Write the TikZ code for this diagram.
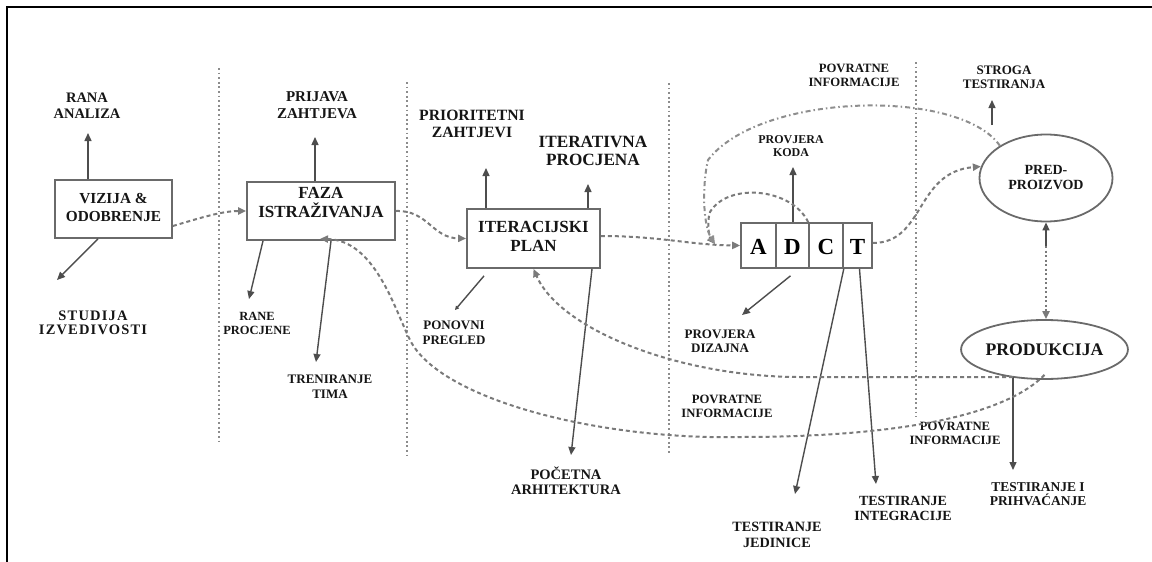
\documentclass[tikz,border=0pt]{standalone}
\usepackage{fontspec}
\setmainfont{Liberation Serif}
\usetikzlibrary{arrows.meta,shapes.geometric}
\definecolor{ln}{HTML}{4D4D4D}
\definecolor{dl}{HTML}{7A7A7A}
\definecolor{dv}{HTML}{8C8C8C}
\definecolor{bx}{HTML}{6A6A6A}
\definecolor{txt}{HTML}{151515}
\begin{document}
\begin{tikzpicture}[x=1pt,y=-1pt,
 lbl/.style n args={2}{font=\bfseries\fontsize{#1}{#2}\selectfont, align=center, inner sep=0pt, text=txt},
 boxn/.style={draw=bx, line width=1.8pt, rectangle, inner sep=0pt, align=center, text=txt},
 cell/.style={draw=bx, line width=1.6pt, rectangle, inner sep=0pt, minimum height=45pt, text height=31.5pt, text depth=13.5pt, font=\bfseries\fontsize{23}{23}\selectfont, text=black},
 ell/.style={draw=bx, line width=1.8pt, ellipse, inner sep=0pt, align=center, text=txt},
 arr/.style={draw=ln, line width=1.4pt, -{Triangle[length=8pt,width=7pt]}},
 arrsmall/.style={draw=ln, line width=1.4pt, -{Triangle[length=4pt,width=4pt]}},
 dsh/.style={draw=dl, line width=2pt, dash pattern=on 4pt off 3pt, -{Triangle[length=8pt,width=7pt]}},
 dshdot/.style={draw=dl!85, line width=2pt, dash pattern=on 5pt off 3pt on 1.5pt off 3pt, -{Triangle[length=8pt,width=7pt]}},
 dotarr/.style={draw=dl, line width=2pt, dash pattern=on 2pt off 2.5pt, -{Triangle[length=8pt,width=7pt]}},
 divl/.style={draw=dv, line width=2.2pt, dash pattern=on 1.8pt off 2.8pt}
]
\useasboundingbox (0,0) rectangle (1152,562);
% frame
\draw[line width=2pt, black] (7,562) -- (7,7) -- (1152,7);
% dividers
\draw[divl] (219,68) -- (219,442);
\draw[divl] (407,82) -- (407,455);
\draw[divl] (669,83) -- (669,455);
\draw[divl] (916,62) -- (916,417);

% boxes
\node[boxn, minimum width=117pt, text height=41pt, text depth=17pt, font=\bfseries\fontsize{15.3}{18}\selectfont] (viz) at (113.5,209) {VIZIJA \&\\ODOBRENJE};
\node[boxn, minimum width=148pt, text height=35.6pt, text depth=22.4pt, font=\bfseries\fontsize{17}{19}\selectfont] (faza) at (321,211) {FAZA\\ISTRAŽIVANJA};
\node[boxn, minimum width=133pt, text height=42.6pt, text depth=16.4pt, font=\bfseries\fontsize{17}{19}\selectfont] (iter) at (533.5,238.5) {ITERACIJSKI\\PLAN};
\node[cell, minimum width=35pt] (A) at (758.5,245.5) {A};
\node[cell, minimum width=33pt] (D) at (792.5,245.5) {D};
\node[cell, minimum width=34pt] (C) at (826,245.5) {C};
\node[cell, minimum width=29pt] (T) at (857.5,245.5) {T};
\node[ell, minimum width=133pt, minimum height=87pt, font=\bfseries\fontsize{14}{15}\selectfont] (pred) at (1046,178) {PRED-\\PROIZVOD};
\node[ell, minimum width=165pt, minimum height=59pt, font=\bfseries\fontsize{17.7}{19}\selectfont] (prod) at (1044.5,349.5) {PRODUKCIJA};

% labels
\node[lbl={14.5}{16}] (rana) at (87,106) {RANA\\ANALIZA};
\node[lbl={14.5}{14.5}, font=\bfseries\fontsize{14.5}{14.5}\selectfont\addfontfeatures{LetterSpace=8}] (stud) at (93,323) {STUDIJA\\IZVEDIVOSTI};
\node[lbl={15}{16.7}] (prij) at (317,105) {PRIJAVA\\ZAHTJEVA};
\node[lbl={12.5}{14}] (rane) at (257,323) {RANE\\PROCJENE};
\node[lbl={13}{14.7}] (tren) at (330,386.5) {TRENIRANJE\\TIMA};
\node[lbl={15.7}{17}] (prio) at (472,123.5) {PRIORITETNI\\ZAHTJEVI};
\node[lbl={17.2}{18}] (itp) at (593,151) {ITERATIVNA\\PROCJENA};
\node[lbl={13}{14.7}] (pon) at (454,332.5) {PONOVNI\\PREGLED};
\node[lbl={14.5}{15}] (poc) at (566,480.5) {POČETNA\\ARHITEKTURA};
\node[lbl={13}{14.3}] (pdiz) at (720,341.5) {PROVJERA\\DIZAJNA};
\node[lbl={12.7}{14}] (pvm) at (727,406) {POVRATNE\\INFORMACIJE};
\node[lbl={12.7}{14}] (pvr) at (955,433) {POVRATNE\\INFORMACIJE};
\node[lbl={12.7}{14}] (pvt) at (854,75) {POVRATNE\\INFORMACIJE};
\node[lbl={12}{13}] (pkoda) at (791,146.5) {PROVJERA\\KODA};
\node[lbl={13}{14.3}] (stroga) at (1004,77) {STROGA\\TESTIRANJA};
\node[lbl={14.2}{16}] (jed) at (777,535) {TESTIRANJE\\JEDINICE};
\node[lbl={14}{14.7}] (int) at (903,508.5) {TESTIRANJE\\INTEGRACIJE};
\node[lbl={13.5}{14}] (prih) at (1038,494.5) {TESTIRANJE I\\PRIHVAĆANJE};

% arrow tips / free ends
\coordinate (tRana) at (88,133);
\coordinate (tStud) at (57,280);
\coordinate (tPrij) at (315,137);
\coordinate (tRane) at (249,299);
\coordinate (tTren) at (316,362);
\coordinate (tPrio) at (486,168);
\coordinate (tItp) at (588,184);
\coordinate (tPon) at (455,310);
\coordinate (tPoc) at (571,455);
\coordinate (tKoda) at (793,167);
\coordinate (tDiz) at (742,315);
\coordinate (tJed) at (795,494);
\coordinate (tInt) at (876,484);
\coordinate (sStr) at (992,125);
\coordinate (tStr) at (992,100);
\coordinate (fb) at (1013,377);
\coordinate (tPrih) at (1013,470);
\coordinate (mid) at (1046,246);
\coordinate (cA) at (715,244);

% solid arrows
\draw[arr] (viz.north -| tRana) -- (tRana);
\draw[arr] ([xshift=-15.5pt]viz.south) -- (tStud);
\draw[arr] (faza.north -| tPrij) -- (tPrij);
\draw[arr] ([xshift=-58pt]faza.south) -- (tRane);
\draw[arr] ([xshift=10pt]faza.south) -- (tTren);
\draw[arr] (iter.north -| tPrio) -- (tPrio);
\draw[arr] (iter.north -| tItp) -- (tItp);
\draw[arrsmall] ([xshift=-49.5pt,yshift=-7pt]iter.south) -- (tPon);
\draw[arr] ([xshift=58.5pt]iter.south) -- (tPoc);
\draw[arr] (D.north -| tKoda) -- (tKoda);
\draw[arr] ([xshift=-2pt,yshift=-7pt]D.south) -- (tDiz);
\draw[arr] (C.south east) -- (tJed);
\draw[arr] ([xshift=2pt]T.south) -- (tInt);
\draw[arr] (sStr) -- (tStr);
\draw[arr] (fb) -- (tPrih);
\draw[arr] (mid) -- (pred.south);
\draw[dotarr] (mid) -- (prod.north -| mid);

% dashed flows
\draw[dsh] ([yshift=-17pt]viz.east) .. controls (200,218) and (222,211) .. (faza.west);
\draw[dsh] (faza.east) .. controls (428,210) and (432,238) .. (iter.west);
\draw[dsh] ([yshift=2.5pt]iter.east) .. controls (660,236) and (690,245) .. (A.west);
\draw[dsh] ([yshift=2.5pt]T.east) .. controls (925,243) and (915,172) .. (pred.170);
\draw[dsh] (C.north west) .. controls (792,188) and (728,182) .. (710,212) .. controls (706,225) and (710,238) .. (cA);
\draw[dshdot] (pred.145) .. controls (960,88) and (760,92) .. (708,160) .. controls (702,185) and (703,225) .. (cA);
\draw[dsh] (fb) -- (800,377) .. controls (680,377) and (560,330) .. (iter.south);
\draw[dsh] ([yshift=5pt]prod.south) .. controls (1000,420) and (880,437) .. (740,437) .. controls (600,440) and (440,400) .. (410,340) .. controls (395,310) and (375,240) .. ([xshift=-1pt,yshift=2pt]faza.south);
\end{tikzpicture}
\end{document}
